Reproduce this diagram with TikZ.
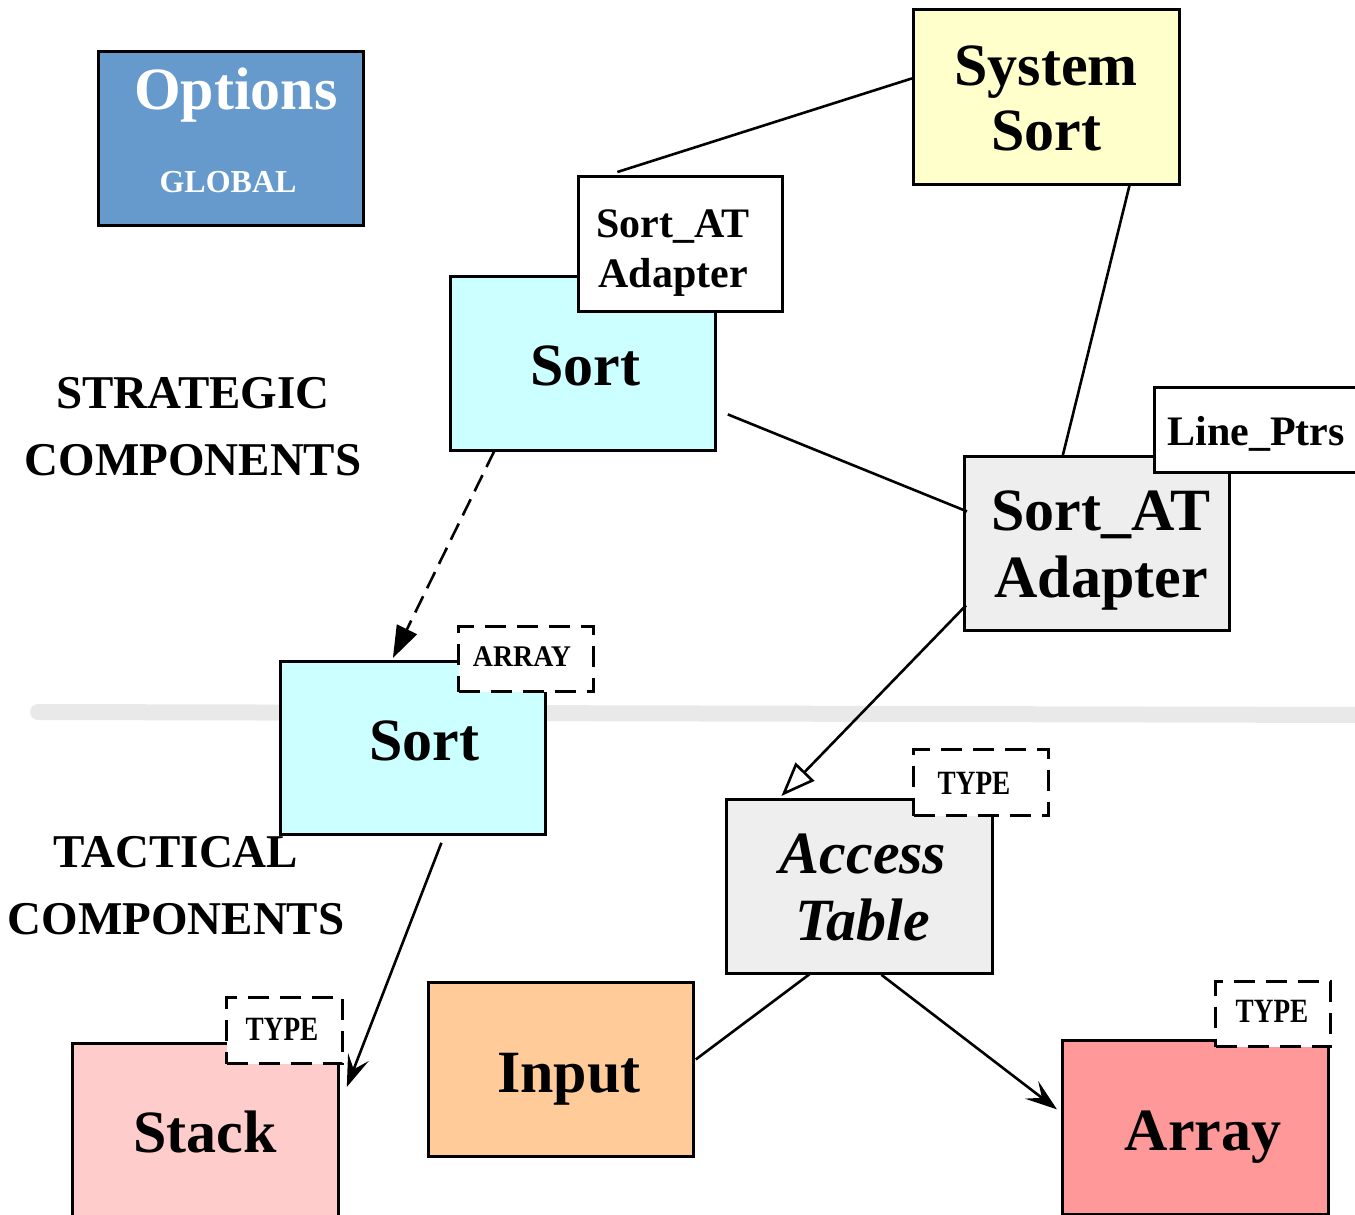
\documentclass[tikz,border=0pt]{standalone}
\usepackage{fontspec}
\setmainfont{Liberation Serif}
\usetikzlibrary{arrows.meta,calc}
\definecolor{cOpt}{HTML}{6699CC}
\definecolor{cSys}{HTML}{FFFFCC}
\definecolor{cCyan}{HTML}{CCFFFF}
\definecolor{cGray}{HTML}{EEEEEE}
\definecolor{cStack}{HTML}{FFCCCC}
\definecolor{cInput}{HTML}{FFCC99}
\definecolor{cArray}{HTML}{FF9999}
\definecolor{cLine}{HTML}{E9E9E9}
\begin{document}
\begin{tikzpicture}[x=1pt,y=-1pt,
  box/.style={draw=black,line width=2.8pt,inner sep=0pt,anchor=north west},
  tagbox/.style={draw=black,fill=white,line width=3pt,dash pattern=on 21pt off 11pt,inner sep=0pt,anchor=north west},
  plainbox/.style={draw=black,fill=white,line width=2.8pt,inner sep=0pt,anchor=north west},
  bigtxt/.style={font=\fontsize{60}{66}\selectfont\bfseries,anchor=base,align=center,inner sep=0pt},
  midtxt/.style={font=\fontsize{42}{50}\selectfont\bfseries,anchor=base,align=center,inner sep=0pt},
  sidetxt/.style={font=\fontsize{47}{67}\selectfont\bfseries,anchor=base,align=center,inner sep=0pt},
  tagtxt/.style={font=\fontsize{34}{40}\selectfont\bfseries,anchor=base,inner sep=0pt},
  conn/.style={line width=2.6pt,draw=black}
]
\useasboundingbox (0,0) rectangle (1355,1215);
% separator
\coordinate (sepL) at (38,712);
\coordinate (sepR) at (1370,715);
\draw[cLine,line width=16pt,line cap=round] (sepL) -- (sepR);

% Options
\node[box,fill=cOpt,minimum width=265pt,minimum height=174pt] (opt) at (97,50) {};
\node[bigtxt,text=white] (optT) at (236,110) {Options};
\node[font=\fontsize{32}{36}\selectfont\bfseries,text=white,anchor=base,inner sep=0pt] (optG) at (228,192) {GLOBAL};

% System Sort
\node[box,fill=cSys,minimum width=266pt,minimum height=175pt] (sys) at (912,8) {};
\node[bigtxt,font=\fontsize{60}{65}\selectfont\bfseries] (sysT) at (1046,150) {System\\Sort};

% strategic Sort
\node[box,fill=cCyan,minimum width=265pt,minimum height=174pt] (sorts) at (449,275) {};
\node[bigtxt] (sortsT) at (585,385) {Sort};
\node[plainbox,minimum width=204pt,minimum height=135pt] (sat) at (577,175) {};
\node[midtxt] (satT) at (673,287) {Sort\_AT\\Adapter};

% big Sort_AT Adapter
\node[box,fill=cGray,minimum width=265pt,minimum height=174pt] (bsat) at (963,455) {};
\node[bigtxt,font=\fontsize{60}{67}\selectfont\bfseries] (bsatT) at (1101,597) {Sort\_AT\\Adapter};
\node[plainbox,minimum width=220pt,minimum height=85pt] (lp) at (1153,386) {};
\node[midtxt] (lpT) at (1256,445) {Line\_Ptrs};

% strategic / tactical labels
\node[sidetxt] (strat) at (193,475) {STRATEGIC\\COMPONENTS};
\node[sidetxt] (tact) at (176,934) {TACTICAL\\COMPONENTS};

% tactical Sort
\node[box,fill=cCyan,minimum width=265pt,minimum height=173pt] (sortt) at (279,660) {};
\node[bigtxt] (sorttT) at (424,760) {Sort};
\node[tagbox,minimum width=135pt,minimum height=65pt] (arr) at (457,625) {};
\node[tagtxt,font=\fontsize{30}{36}\selectfont\bfseries] (arrT) at (522,666) {\scalebox{0.93}[1]{ARRAY}};

% Access Table
\node[box,fill=cGray,minimum width=266pt,minimum height=174pt] (acc) at (725,798) {};
\node[bigtxt,font=\fontsize{60}{67}\selectfont\bfseries\itshape] (accT) at (863,940) {Access\\Table};
\node[tagbox,minimum width=135pt,minimum height=66pt] (accTag) at (912,748) {};
\node[tagtxt] (accTagT) at (974,794) {\scalebox{0.8}[1]{TYPE}};

% Stack
\node[box,fill=cStack,minimum width=266pt,minimum height=200pt] (stack) at (71,1042) {};
\node[bigtxt] (stackT) at (205,1152) {Stack};
\node[tagbox,minimum width=116pt,minimum height=66pt] (stackTag) at (225,996) {};
\node[tagtxt] (stackTagT) at (282,1040) {\scalebox{0.8}[1]{TYPE}};

% Input
\node[box,fill=cInput,minimum width=265pt,minimum height=174pt] (input) at (427,981) {};
\node[bigtxt] (inputT) at (569,1092) {Input};

% Array
\node[box,fill=cArray,minimum width=266pt,minimum height=174pt] (array) at (1061,1039) {};
\node[bigtxt] (arrayT) at (1203,1150) {Array};
\node[tagbox,minimum width=115pt,minimum height=65pt] (arrayTag) at (1214,980) {};
\node[tagtxt] (arrayTagT) at (1272,1022) {\scalebox{0.8}[1]{TYPE}};

% connectors
\draw[conn] ([yshift=18.5pt]sys.west) -- ([xshift=-63pt,yshift=3pt]sat.north);
\draw[conn] ([xshift=83pt]sys.south) -- ([xshift=-34.5pt,yshift=-2pt]bsat.north);
\draw[conn] ([xshift=11pt,yshift=-51pt]sorts.east) -- ([xshift=4pt,yshift=32pt]bsat.west);
\draw[conn,dash pattern=on 18pt off 9pt,-{Triangle[length=32pt,width=22pt]}]
  ([xshift=-88.5pt,yshift=1pt]sorts.south) -- ([xshift=-20pt,yshift=2pt]sortt.north);
\draw[conn,-{Triangle[open,length=34pt,width=26pt,line width=2.6pt]}]
  ([xshift=3pt,yshift=-62pt]bsat.west) -- ([xshift=-78pt,yshift=2pt]acc.north);
\draw[conn,-{Stealth[length=32pt,width=22pt,inset=13pt]}]
  ([xshift=28.5pt,yshift=-7pt]sortt.south) -- ([xshift=7pt,yshift=-45pt]stack.north east);
\draw[conn] ([xshift=-48pt,yshift=2pt]acc.south) -- ([xshift=1pt,yshift=10pt]input.east);
\draw[conn,-{Stealth[length=32pt,width=22pt,inset=13pt]}]
  ([xshift=22pt]acc.south) -- ([xshift=-4pt,yshift=18pt]array.west);
\end{tikzpicture}
\end{document}
